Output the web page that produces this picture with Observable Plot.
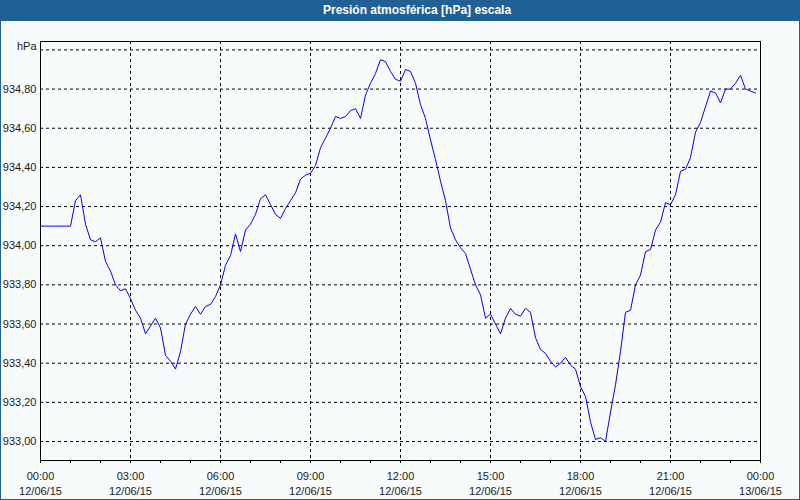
<!DOCTYPE html>
<html>
<head>
<meta charset="utf-8">
<script src="https://cdn.jsdelivr.net/npm/d3@7"></script>
<script src="https://cdn.jsdelivr.net/npm/@observablehq/plot@0.6"></script>
<style>
  html, body { margin: 0; padding: 0; background: #f8fbfb; }
  #wrap { position: relative; width: 800px; height: 500px; overflow: hidden; background: #f8fbfb; }
  #title { position: absolute; left: 0; top: 0; width: 800px; height: 21px; background: #1f6096; }
  #title span { position: absolute; left: 323px; top: 3px; color: #fff; font: bold 12px "Liberation Sans", Arial, sans-serif; white-space: nowrap; }
  #chart { position: absolute; left: 0; top: 21px; }
  #border { position: absolute; left: 0; top: 0; width: 800px; height: 500px; box-sizing: border-box; border: 1px solid #1f6096; border-top: none; pointer-events: none; }
</style>
</head>
<body>
<div id="wrap">
  <div id="title"><span>Presión atmosférica [hPa] escala</span></div>
  <div id="chart"></div>
  <div id="border"></div>
</div>
<script>
// ---- data ----
const chartTitle = "Presión atmosférica [hPa] escala";
const startTime = "2015-06-12T00:00:00Z";
const endTime = "2015-06-13T00:00:00Z";
const stepMinutes = 10;
// pressure readings every 10 minutes from 00:00 (hPa)
const pressure = [
  934.10, 934.10, 934.10, 934.10, 934.10, 934.10, 934.10, 934.23, 934.26, 934.11,
  934.03, 934.02, 934.04, 933.92, 933.87, 933.80, 933.77, 933.78, 933.73, 933.67,
  933.63, 933.55, 933.59, 933.63, 933.58, 933.44, 933.41, 933.37, 933.46, 933.60,
  933.65, 933.69, 933.65, 933.69, 933.70, 933.74, 933.80, 933.90, 933.95, 934.06,
  933.97, 934.08, 934.11, 934.16, 934.24, 934.26, 934.21, 934.16, 934.14, 934.19,
  934.23, 934.27, 934.34, 934.36, 934.37, 934.41, 934.50, 934.55, 934.60, 934.66,
  934.65, 934.66, 934.69, 934.70, 934.65, 934.77, 934.83, 934.88, 934.95, 934.94,
  934.89, 934.85, 934.84, 934.90, 934.89, 934.83, 934.72, 934.65, 934.54, 934.44,
  934.33, 934.23, 934.09, 934.03, 933.99, 933.96, 933.88, 933.80, 933.75, 933.63,
  933.65, 933.60, 933.55, 933.63, 933.68, 933.65, 933.64, 933.68, 933.66, 933.53,
  933.47, 933.45, 933.41, 933.38, 933.40, 933.43, 933.39, 933.37, 933.28, 933.23,
  933.10, 933.01, 933.02, 933.00, 933.15, 933.29, 933.46, 933.66, 933.67, 933.80,
  933.85, 933.97, 933.98, 934.08, 934.12, 934.22, 934.21, 934.26, 934.38, 934.39,
  934.45, 934.58, 934.63, 934.71, 934.79, 934.78, 934.73, 934.80, 934.80, 934.83,
  934.87, 934.80, 934.79, 934.78
];
const yTicks = [933.0, 933.2, 933.4, 933.6, 933.8, 934.0, 934.2, 934.4, 934.6, 934.8];
const yTopTick = [935.0];
const yTopLabel = "hPa";
const xMajorLabels = [
  ["00:00", "12/06/15"], ["03:00", "12/06/15"], ["06:00", "12/06/15"],
  ["09:00", "12/06/15"], ["12:00", "12/06/15"], ["15:00", "12/06/15"],
  ["18:00", "12/06/15"], ["21:00", "12/06/15"], ["00:00", "13/06/15"]
];

// ---- build ----
const t0 = new Date(startTime);
const t1 = new Date(endTime);
const data = pressure.map((v, i) => ({ t: new Date(+t0 + i * stepMinutes * 60000), v }));
const majorTicks = xMajorLabels.map((_, i) => new Date(+t0 + i * 3 * 3600000));
const hourTicks = d3.utcHours(t0, new Date(+t1 + 1));
const labelOf = new Map(majorTicks.map((d, i) => [+d, xMajorLabels[i].join("\n")]));
const fmt = d => d.toFixed(2).replace(".", ",");

const plot = Plot.plot({
  width: 800,
  height: 479,
  marginLeft: 40,
  marginRight: 40,
  marginTop: 20,
  marginBottom: 40,
  style: { background: "transparent", fontFamily: "'Liberation Sans', Arial, sans-serif", fontSize: "11px", color: "#1a1a1a" },
  x: { type: "utc", domain: [t0, t1], label: null },
  y: { domain: [932.903, 935.043], label: null },
  marks: [
    Plot.gridX(majorTicks, { stroke: "#000", strokeOpacity: 1, strokeDasharray: "3,3" }),
    Plot.gridY(yTicks.concat(yTopTick), { stroke: "#000", strokeOpacity: 1, strokeDasharray: "3,3" }),
    Plot.axisX(hourTicks, { tickSize: 3, tickFormat: () => "", stroke: "#000" }),
    Plot.axisX(majorTicks, { tickSize: 0, tickPadding: 9, tickFormat: d => labelOf.get(+d), lineHeight: 1.36, fill: "#1a1a1a" }),
    Plot.axisY(yTicks, { tickSize: 0, tickPadding: 4, tickFormat: fmt, fill: "#1a1a1a" }),
    Plot.axisY(yTopTick, { tickSize: 0, tickPadding: 4, dy: -3, tickFormat: () => yTopLabel, fill: "#1a1a1a" }),
    Plot.line(data, { x: "t", y: "v", stroke: "#0000ff", strokeWidth: 1 }),
    Plot.frame({ stroke: "#000", strokeWidth: 1 })
  ]
});
document.getElementById("chart").appendChild(plot);
</script>
</body>
</html>
